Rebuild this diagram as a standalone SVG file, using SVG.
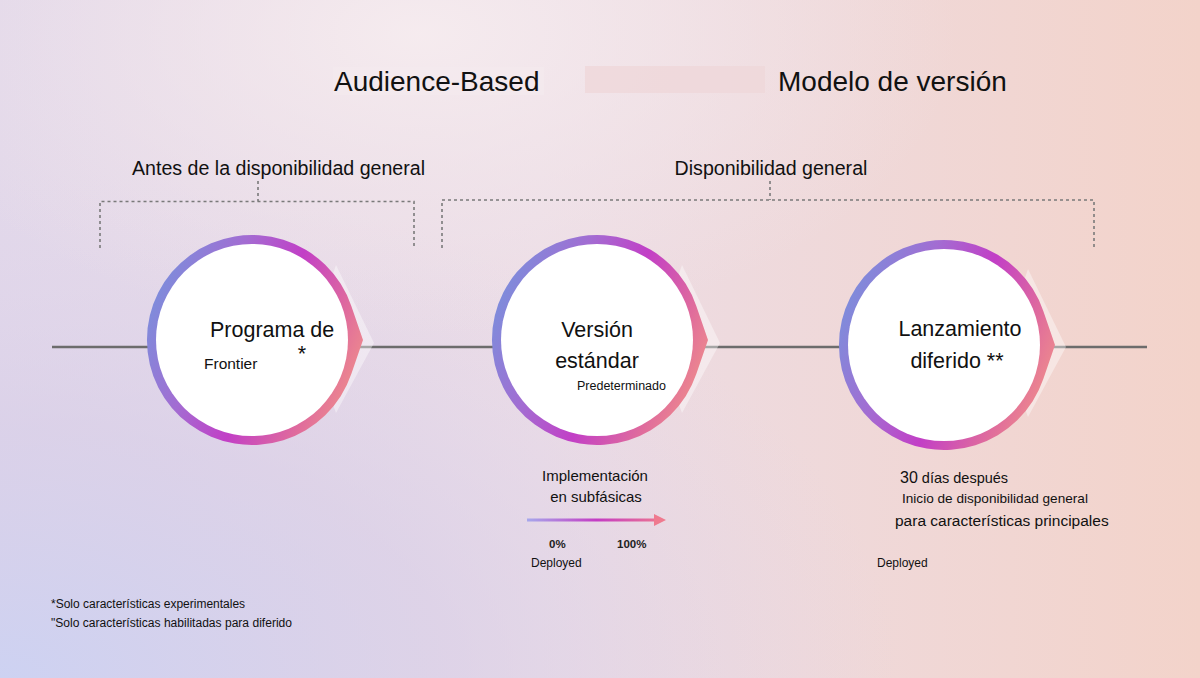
<svg xmlns="http://www.w3.org/2000/svg" width="1200" height="678" viewBox="0 0 1200 678">
<defs>
<linearGradient id="bg" x1="0" y1="0" x2="1" y2="0">
<stop offset="0" stop-color="#e2d8ea"/>
<stop offset="0.45" stop-color="#ecdde6"/>
<stop offset="1" stop-color="#f3d3ca"/>
</linearGradient>
<radialGradient id="bgBlue" cx="0" cy="1" r="0.75">
<stop offset="0" stop-color="#cdd2f2" stop-opacity="1"/>
<stop offset="0.5" stop-color="#d6cde8" stop-opacity="0.6"/>
<stop offset="1" stop-color="#e0d4ea" stop-opacity="0"/>
</radialGradient>
<radialGradient id="bgTop" cx="0.35" cy="0.05" r="0.45">
<stop offset="0" stop-color="#f6ecef" stop-opacity="0.95"/>
<stop offset="1" stop-color="#f3e6ea" stop-opacity="0"/>
</radialGradient>
<linearGradient id="ring" x1="0" y1="0.3" x2="1" y2="0.7">
<stop offset="0" stop-color="#7b8fdc"/>
<stop offset="0.3" stop-color="#a36cd2"/>
<stop offset="0.55" stop-color="#c23fc6"/>
<stop offset="0.82" stop-color="#e06c9c"/>
<stop offset="1" stop-color="#f0908a"/>
</linearGradient>
<linearGradient id="arrowGrad" gradientUnits="userSpaceOnUse" x1="527" y1="0" x2="666" y2="0">
<stop offset="0" stop-color="#a6a8ec"/>
<stop offset="0.5" stop-color="#c43cc4"/>
<stop offset="1" stop-color="#f07a8c"/>
</linearGradient>
<marker id="ah" markerWidth="12" markerHeight="12" refX="2" refY="6" orient="auto" markerUnits="userSpaceOnUse">
<path d="M0,0 L12,6 L0,12 Z" fill="#ef7a8f"/>
</marker>
<style>
text{font-family:"Liberation Sans",Arial,sans-serif;fill:#111;}
.title{font-size:28px;}
.phase{font-size:19.6px;}
.node{font-size:21.5px;}
.small{font-size:12px;}
.dash{fill:none;stroke:#7a7a7a;stroke-width:1.6;stroke-dasharray:3 3;}
.chev{fill:#ffffff;fill-opacity:0.4;}
.ring{fill:url(#ring);}
.inner{fill:#ffffff;}
</style>
</defs>
<rect width="1200" height="678" fill="url(#bg)"/>
<rect width="1200" height="678" fill="url(#bgBlue)"/>
<rect width="1200" height="678" fill="url(#bgTop)"/>

<g id="title">
<rect x="333" y="67" width="211" height="28" fill="#f4eaee" opacity="0.7"/>
<rect x="585" y="66" width="180" height="27" fill="#efd7da" opacity="0.8"/>
<text class="title" x="334" y="91">Audience-Based</text>
<text class="title" x="778" y="91">Modelo de versión</text>
</g>

<g id="phase-pre-ga">
<text class="phase" x="132" y="175">Antes de la disponibilidad general</text>
</g>
<g id="phase-ga">
<text class="phase" x="771" y="175" text-anchor="middle">Disponibilidad general</text>
</g>

<g id="connectors">
<path class="dash" d="M100,248 V201.5 H414 V248 M258,181 V201.5"/>
<path class="dash" d="M442,248 V200 H1094 V248 M770,181 V200"/>
<line x1="52" y1="347" x2="1147" y2="347" stroke="#6c6c6c" stroke-width="2.5"/>
<line x1="527" y1="520" x2="656" y2="520" stroke="url(#arrowGrad)" stroke-width="3" marker-end="url(#ah)"/>
</g>

<g id="node-frontier">
<polygon class="chev" points="336,265 374,343 336,413 310,340"/>
<path class="ring" d="M363,340 L351.3,306 A105,105 0 1 0 351.3,374 Z"/>
<circle class="inner" cx="252" cy="340" r="96"/>
<text class="node" x="210" y="337">Programa de</text>
<text class="node" x="302" y="361" text-anchor="middle">*</text>
<text x="204" y="369" style="font-size:15.5px">Frontier</text>
</g>

<g id="node-standard">
<polygon class="chev" points="682,265 720,343 682,413 656,340"/>
<path class="ring" d="M708,340 L696.3,306 A105,105 0 1 0 696.3,374 Z"/>
<circle class="inner" cx="597" cy="340" r="96"/>
<text class="node" x="597" y="337" text-anchor="middle">Versión</text>
<text class="node" x="597" y="368" text-anchor="middle">estándar</text>
<text x="577" y="390" style="font-size:12.5px">Predeterminado</text>
</g>

<g id="node-deferred">
<polygon class="chev" points="1028,269 1066,347 1028,417 1002,345"/>
<path class="ring" d="M1055,345 L1043.3,311 A105,105 0 1 0 1043.3,379 Z"/>
<circle class="inner" cx="944" cy="345" r="96"/>
<text class="node" x="960" y="336" text-anchor="middle">Lanzamiento</text>
<text class="node" x="957" y="368" text-anchor="middle">diferido **</text>
</g>

<g id="rollout">
<text x="595" y="481" text-anchor="middle" style="font-size:15px">Implementación</text>
<text x="596" y="502" text-anchor="middle" style="font-size:15px">en subfásicas</text>
<text x="549" y="548" style="font-size:11.5px;font-weight:bold;fill:#222">0%</text>
<text x="617" y="548" style="font-size:11.5px;font-weight:bold;fill:#222">100%</text>
<text class="small" x="531" y="567">Deployed</text>
</g>

<g id="deferred-notes">
<text x="900" y="483" style="font-size:14.5px"><tspan style="font-size:16px">30</tspan> días después</text>
<text x="902" y="503" style="font-size:13.6px">Inicio de disponibilidad general</text>
<text x="895" y="526" style="font-size:15.5px">para características principales</text>
<text class="small" x="877" y="567">Deployed</text>
</g>

<g id="footnotes">
<text class="small" x="51" y="608">*Solo características experimentales</text>
<text class="small" x="51" y="627" textLength="241" lengthAdjust="spacingAndGlyphs">"Solo características habilitadas para diferido</text>
</g>
</svg>
